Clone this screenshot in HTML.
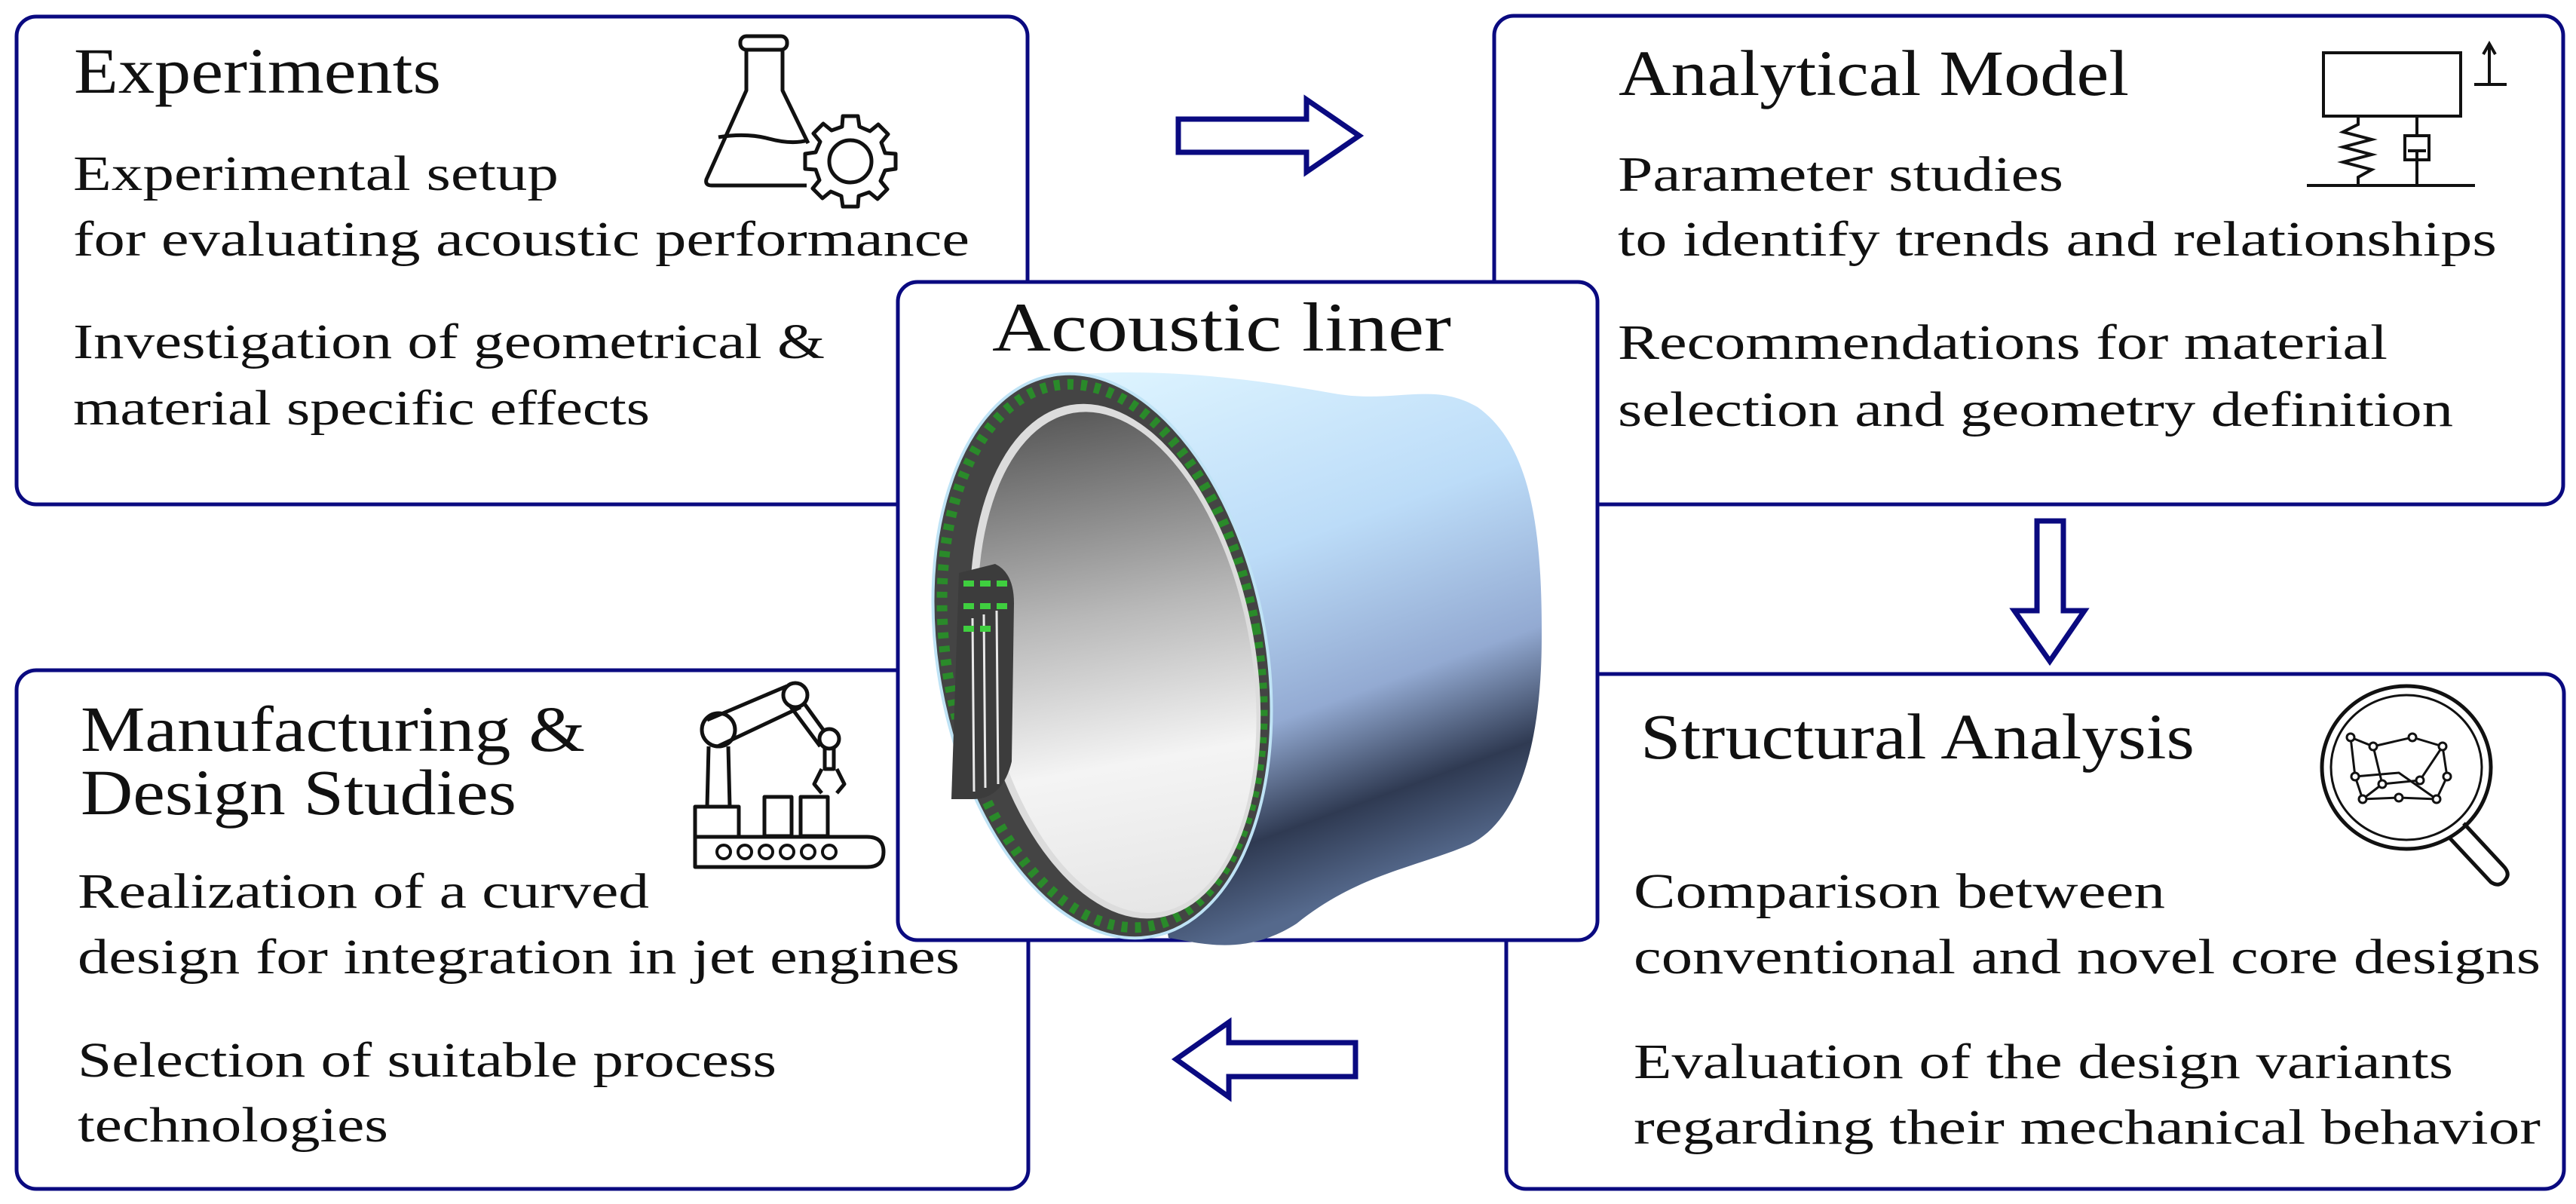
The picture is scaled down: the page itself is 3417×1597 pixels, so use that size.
<!DOCTYPE html>
<html><head><meta charset="utf-8"><style>
html,body{margin:0;padding:0;background:#fff;}
svg{display:block;}
</style></head><body>
<svg width="3417" height="1597" viewBox="0 0 3417 1597" xmlns="http://www.w3.org/2000/svg" font-family="'Liberation Serif', serif">
<defs>
<linearGradient id="body" x1="0" y1="0" x2="0.3" y2="1">
<stop offset="0" stop-color="#dff5ff"/>
<stop offset="0.4" stop-color="#bcdcf8"/>
<stop offset="0.68" stop-color="#93aad2"/>
<stop offset="0.86" stop-color="#2f3a52"/>
<stop offset="1" stop-color="#55698c"/>
</linearGradient>
<linearGradient id="inner" x1="0" y1="0" x2="0" y2="1">
<stop offset="0" stop-color="#5a5a5a"/>
<stop offset="0.4" stop-color="#b8b8b8"/>
<stop offset="0.7" stop-color="#f4f4f4"/>
<stop offset="1" stop-color="#e6e6e6"/>
</linearGradient>
</defs>

<g fill="#fff" stroke="#0a0a80" stroke-width="5">
<rect x="22" y="22" width="1341" height="647" rx="26"/>
<rect x="1982" y="21" width="1418" height="648" rx="26"/>
<rect x="22" y="889" width="1342" height="688" rx="26"/>
<rect x="1998" y="894" width="1403" height="683" rx="26"/>
<rect x="1191" y="374" width="928" height="873" rx="26"/>
</g>

<g fill="#fff" stroke="#0a0a80" stroke-width="7" stroke-linejoin="miter">
<path d="M1563,158 L1733,158 L1733,132 L1803,180 L1733,228 L1733,202 L1563,202 Z"/>
<path d="M1798,1383 L1630,1383 L1630,1356 L1560,1405 L1630,1455 L1630,1428 L1798,1428 Z"/>
<path d="M2702,691 L2737,691 L2737,810 L2765,810 L2719,877 L2672,810 L2702,810 Z"/>
</g>

<g fill="#111" font-family="'Liberation Serif', serif">
<text x="98" y="123" font-size="86" textLength="487" lengthAdjust="spacingAndGlyphs">Experiments</text>
<g font-size="66">
<text x="97" y="252" textLength="644" lengthAdjust="spacingAndGlyphs">Experimental setup</text>
<text x="97" y="339" textLength="1189" lengthAdjust="spacingAndGlyphs">for evaluating acoustic performance</text>
<text x="97" y="475" textLength="997" lengthAdjust="spacingAndGlyphs">Investigation of geometrical &amp;</text>
<text x="97" y="563" textLength="765" lengthAdjust="spacingAndGlyphs">material specific effects</text>
</g>

<text x="2147" y="126" font-size="86" textLength="677" lengthAdjust="spacingAndGlyphs">Analytical Model</text>
<g font-size="66">
<text x="2146" y="253" textLength="591" lengthAdjust="spacingAndGlyphs">Parameter studies</text>
<text x="2146" y="339" textLength="1166" lengthAdjust="spacingAndGlyphs">to identify trends and relationships</text>
<text x="2146" y="476" textLength="1021" lengthAdjust="spacingAndGlyphs">Recommendations for material</text>
<text x="2146" y="565" textLength="1108" lengthAdjust="spacingAndGlyphs">selection and geometry definition</text>
</g>

<text x="107" y="996" font-size="86" textLength="669" lengthAdjust="spacingAndGlyphs">Manufacturing &amp;</text>
<text x="107" y="1080" font-size="86" textLength="578" lengthAdjust="spacingAndGlyphs">Design Studies</text>
<g font-size="66">
<text x="103" y="1204" textLength="758" lengthAdjust="spacingAndGlyphs">Realization of a curved</text>
<text x="103" y="1291" textLength="1170" lengthAdjust="spacingAndGlyphs">design for integration in jet engines</text>
<text x="103" y="1428" textLength="927" lengthAdjust="spacingAndGlyphs">Selection of suitable process</text>
<text x="103" y="1514" textLength="412" lengthAdjust="spacingAndGlyphs">technologies</text>
</g>

<text x="2176" y="1006" font-size="86" textLength="735" lengthAdjust="spacingAndGlyphs">Structural Analysis</text>
<g font-size="66">
<text x="2167" y="1204" textLength="705" lengthAdjust="spacingAndGlyphs">Comparison between</text>
<text x="2167" y="1291" textLength="1203" lengthAdjust="spacingAndGlyphs">conventional and novel core designs</text>
<text x="2167" y="1430" textLength="1087" lengthAdjust="spacingAndGlyphs">Evaluation of the design variants</text>
<text x="2167" y="1517" textLength="1203" lengthAdjust="spacingAndGlyphs">regarding their mechanical behavior</text>
</g>

<text x="1316" y="465" font-size="92" textLength="609" lengthAdjust="spacingAndGlyphs">Acoustic liner</text>
</g>

<g fill="none" stroke="#111" stroke-width="5" stroke-linejoin="round">
<rect x="982" y="48" width="62" height="18" rx="8"/>
<path d="M990,66 L990,120 L937,238 Q935,246 944,246 L1070,246 M1038,66 L1038,120 L1072,190"/>
<path d="M953,182 Q990,176 1020,184 T1072,186"/>
<g transform="translate(1128,214)">
<circle r="28"/>
<path d="M-10,-60 L10,-60 L12,-46 L26,-40 L37,-49 L50,-36 L41,-25 L46,-11 L60,-10 L60,10 L46,12 L40,26 L49,37 L36,50 L25,41 L11,46 L10,60 L-10,60 L-12,46 L-26,40 L-37,49 L-50,36 L-41,25 L-46,11 L-60,10 L-60,-10 L-46,-12 L-40,-26 L-49,-37 L-36,-50 L-25,-41 L-11,-46 Z"/>
</g>
</g>

<g fill="none" stroke="#111" stroke-width="4">
<rect x="3082" y="70" width="182" height="84"/>
<path d="M3302,112 L3302,60 M3294,72 L3302,58 L3310,72 M3282,112 L3325,112"/>
<path d="M3060,246 L3283,246"/>
<path d="M3128,154 L3128,165 L3108,175 L3146,185 L3108,195 L3146,205 L3108,215 L3146,225 L3128,235 L3128,246"/>
<path d="M3206,154 L3206,180 M3190,180 L3222,180 L3222,212 L3190,212 Z M3206,200 L3206,246 M3194,200 L3218,200"/>
</g>

<g fill="none" stroke="#111" stroke-width="5" stroke-linejoin="round">
<circle cx="953" cy="968" r="22"/>
<circle cx="1055" cy="922" r="16"/>
<circle cx="1100" cy="980" r="13"/>
<path d="M938,955 L1044,910 M952,990 L1062,938 M1066,932 L1092,968 M1047,935 L1088,990"/>
<path d="M940,990 L938,1070 L968,1070 L966,990"/>
<path d="M1094,993 L1094,1020 L1106,1020 L1106,993 M1090,1020 L1080,1040 L1090,1052 M1110,1020 L1120,1040 L1110,1052"/>
<rect x="922" y="1070" width="58" height="40"/>
<rect x="1014" y="1057" width="36" height="52"/>
<rect x="1062" y="1057" width="36" height="52"/>
<path d="M922,1110 L1150,1110 Q1172,1110 1172,1130 Q1172,1150 1150,1150 L922,1150 Z"/>
<g stroke-width="4"><circle cx="960" cy="1130" r="9"/><circle cx="988" cy="1130" r="9"/><circle cx="1016" cy="1130" r="9"/><circle cx="1044" cy="1130" r="9"/><circle cx="1072" cy="1130" r="9"/><circle cx="1100" cy="1130" r="9"/></g>
</g>

<g fill="none" stroke="#111" stroke-width="5">
<ellipse cx="3192" cy="1018" rx="112" ry="108"/>
<ellipse cx="3192" cy="1018" rx="100" ry="96" stroke-width="3"/>
<path d="M3248,1110 L3304,1170 Q3316,1178 3324,1166 Q3330,1158 3320,1148 L3268,1092"/>
<g stroke-width="3"><path d="M3118,978 L3148,990 L3200,978 L3240,990 L3246,1030 L3232,1060 L3182,1058 L3134,1060 L3124,1030 Z M3148,990 L3160,1040 L3210,1035 L3240,990 M3124,1030 L3182,1025 L3232,1060 M3134,1060 L3160,1040"/></g>
<g fill="#fff" stroke-width="3"><circle cx="3118" cy="978" r="5"/><circle cx="3148" cy="990" r="5"/><circle cx="3200" cy="978" r="5"/><circle cx="3240" cy="990" r="5"/><circle cx="3246" cy="1030" r="5"/><circle cx="3232" cy="1060" r="5"/><circle cx="3182" cy="1058" r="5"/><circle cx="3134" cy="1060" r="5"/><circle cx="3124" cy="1030" r="5"/><circle cx="3160" cy="1040" r="5"/><circle cx="3210" cy="1035" r="5"/></g>
</g>

<path d="M1420,497 C1560,486 1690,508 1770,522 C1850,536 1900,505 1960,540 C2030,590 2046,700 2045,850 C2044,1000 2010,1090 1950,1120 C1880,1150 1800,1160 1720,1225 C1650,1270 1590,1250 1550,1244 Z" fill="url(#body)"/>
<g transform="rotate(-10 1462 870)">
<ellipse cx="1462" cy="870" rx="218" ry="378" fill="#444" stroke="#bfe3f5" stroke-width="4"/>
<ellipse cx="1462" cy="870" rx="206" ry="364" fill="none" stroke="#2a8a2a" stroke-width="14" stroke-dasharray="8 10"/>
<ellipse cx="1478" cy="880" rx="186" ry="345" fill="#dcdcdc"/>
<ellipse cx="1480" cy="882" rx="178" ry="336" fill="url(#inner)"/>
</g>
<path d="M1272,760 L1320,748 Q1345,760 1345,800 L1342,1010 Q1330,1060 1290,1060 L1262,1060 Z" fill="#3c3c3c"/>
<g stroke="#e8e8e8" stroke-width="3"><path d="M1290,820 L1292,1050 M1305,815 L1307,1045 M1322,810 L1324,1040"/></g>
<g fill="#3fcf3f"><rect x="1278" y="770" width="14" height="8"/><rect x="1300" y="770" width="14" height="8"/><rect x="1322" y="770" width="14" height="8"/><rect x="1278" y="800" width="14" height="8"/><rect x="1300" y="800" width="14" height="8"/><rect x="1322" y="800" width="14" height="8"/><rect x="1278" y="830" width="14" height="8"/><rect x="1300" y="830" width="14" height="8"/></g>
</svg>
</body></html>
